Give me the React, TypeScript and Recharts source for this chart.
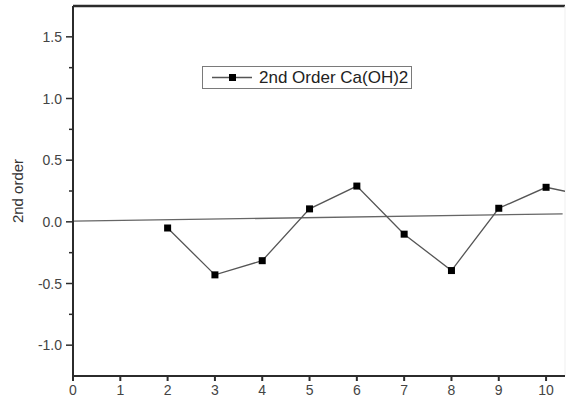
import React from 'react';
import { Line, LineChart, ReferenceLine, XAxis, YAxis } from 'recharts';

// measured values (x = sample number, y = 2nd order residual)
const xValues = [2, 3, 4, 5, 6, 7, 8, 9, 10, 11];
const yValues = [-0.05, -0.43, -0.315, 0.105, 0.29, -0.1, -0.395, 0.11, 0.28, 0.2];

// linear fit drawn as a thin line
const fitX = [0, 10.35];
const fitY = [0.005, 0.065];

const xTicks = [0, 1, 2, 3, 4, 5, 6, 7, 8, 9, 10];
const yTicks = [-1.25, -1.0, -0.75, -0.5, -0.25, 0, 0.25, 0.5, 0.75, 1.0, 1.25, 1.5, 1.75];
const xDomain: [number, number] = [0, 10.4];
const yDomain: [number, number] = [-1.25, 1.75];

const seriesName = '2nd Order Ca(OH)2';
const yLabel = '2nd order';

const points = xValues.map((x, i) => ({ x, y: yValues[i] }));
const fitPoints = fitX.map((x, i) => ({ x, y: fitY[i] }));

const FONT = '"Liberation Sans", Arial, sans-serif';
const AXIS = '#2b2b2b';

const SquareDot = (props: any) => {
  const { cx, cy } = props;
  if (cx == null || cy == null) return null;
  return <rect x={cx - 3.5} y={cy - 3.5} width={7} height={7} fill="#000" />;
};

const YTick = (props: any) => {
  const { x, y, payload } = props;
  const v = payload.value;
  const major = Math.abs(v * 2 - Math.round(v * 2)) < 1e-6;
  const inside = v > yDomain[0] + 1e-6 && v < yDomain[1] - 1e-6;
  if (!inside) return null;
  return (
    <g>
      <line x1={x - (major ? 7 : 4)} x2={x} y1={y} y2={y} stroke={AXIS} strokeWidth={1.5} />
      {major && (
        <text
          x={x - 11}
          y={y}
          textAnchor="end"
          dominantBaseline="central"
          fontSize={14}
          fontFamily={FONT}
          fill="#444"
        >
          {v.toFixed(1)}
        </text>
      )}
    </g>
  );
};

export default function App() {
  return (
    <div
      style={{
        position: 'fixed',
        left: 0,
        top: 0,
        width: 566,
        height: 409,
        overflow: 'hidden',
        background: '#fff',
      }}
    >
      <LineChart
        width={566}
        height={409}
        margin={{ top: 6, right: 1, bottom: 0, left: 0 }}
      >
        <XAxis
          type="number"
          dataKey="x"
          domain={xDomain}
          ticks={xTicks}
          allowDataOverflow
          height={33}
          stroke={AXIS}
          strokeWidth={2}
          tickSize={5}
          tickMargin={4}
          tick={{ fontSize: 14, fontFamily: FONT, fill: '#444' }}
        />
        <YAxis
          type="number"
          domain={yDomain}
          ticks={yTicks}
          allowDataOverflow
          width={73}
          stroke={AXIS}
          strokeWidth={2}
          tickLine={false}
          tickSize={0}
          tickMargin={0}
          tick={<YTick />}
          label={({ viewBox }: any) => (
            <text
              x={17}
              y={viewBox.y + viewBox.height / 2}
              transform={`rotate(-90, 17, ${viewBox.y + viewBox.height / 2})`}
              textAnchor="middle"
              dominantBaseline="central"
              fontSize={15}
              fontFamily={FONT}
              fill="#333"
            >
              {yLabel}
            </text>
          )}
        />
        <ReferenceLine y={yDomain[1]} stroke={AXIS} strokeWidth={2.5} />
        <ReferenceLine x={xDomain[1]} stroke="#efefef" strokeWidth={1} />
        <Line
          data={fitPoints}
          dataKey="y"
          stroke="#666"
          strokeWidth={1.3}
          dot={false}
          activeDot={false}
          isAnimationActive={false}
        />
        <Line
          data={points}
          dataKey="y"
          name={seriesName}
          stroke="#555"
          strokeWidth={1.3}
          dot={<SquareDot />}
          activeDot={false}
          isAnimationActive={false}
        />
      </LineChart>
      <div
        style={{
          position: 'absolute',
          left: 202,
          top: 66,
          width: 210,
          height: 23,
          border: '1px solid #7a7a7a',
          display: 'flex',
          alignItems: 'center',
          fontFamily: FONT,
          fontSize: 17,
          color: '#222',
          boxSizing: 'border-box',
        }}
      >
        <svg width={56} height={21} style={{ display: 'block' }}>
          <line x1={9} x2={49} y1={10.5} y2={10.5} stroke="#555" strokeWidth={1.3} />
          <rect x={26} y={7} width={7} height={7} fill="#000" />
        </svg>
        <span style={{ whiteSpace: 'nowrap' }}>{seriesName}</span>
      </div>
    </div>
  );
}
